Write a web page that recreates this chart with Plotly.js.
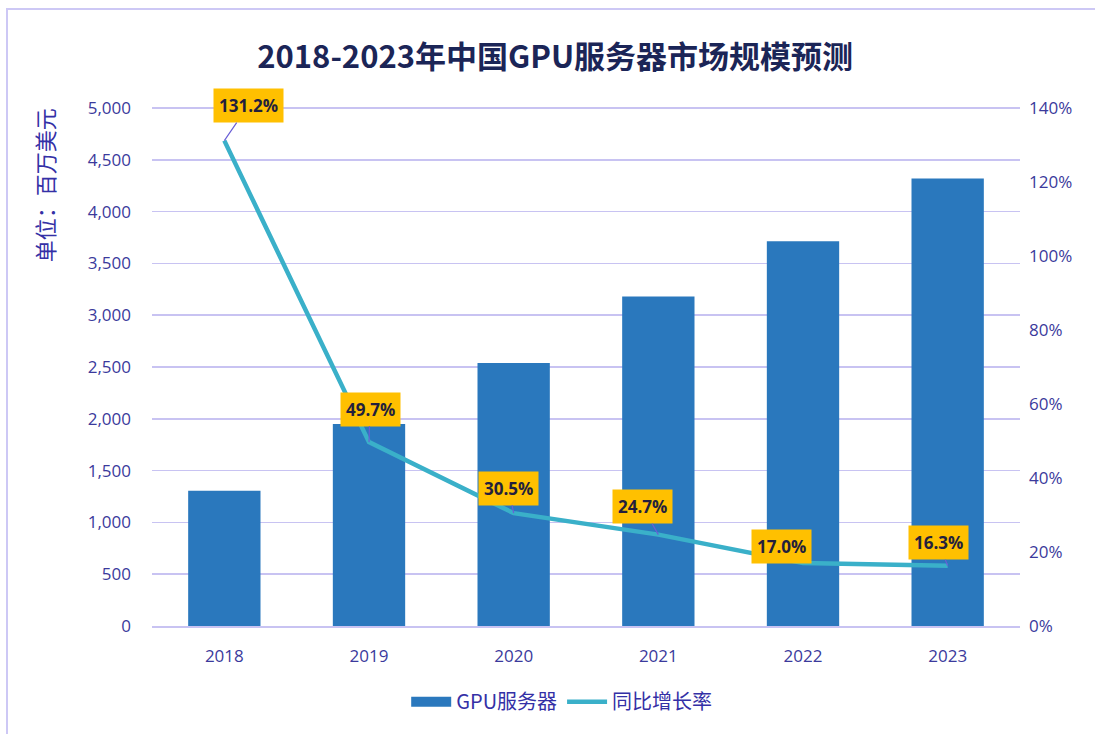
<!DOCTYPE html>
<html>
<head>
<meta charset="utf-8">
<script src="https://cdn.plot.ly/plotly-3.0.1.min.js"></script>
<style>
  html, body { margin: 0; padding: 0; background: #ffffff; overflow: hidden; }
  #chart { width: 1095px; height: 734px; }
  #frame { position: absolute; left: 6px; top: 8px; width: 1200px; height: 800px;
           border-top: 2px solid #cdc8f5; border-left: 2px solid #cdc8f5; pointer-events: none; }
</style>
</head>
<body>
<div id="chart"></div>
<div id="frame"></div>
<script>
// ---- data ----
const years = ['2018', '2019', '2020', '2021', '2022', '2023'];
const marketSize = [1305, 1950, 2540, 3180, 3715, 4320];   // 百万美元
const growthRate = [1.312, 0.497, 0.305, 0.247, 0.170, 0.163];
const growthLabels = ['131.2%', '49.7%', '30.5%', '24.7%', '17.0%', '16.3%'];
const leftTicks = [0, 500, 1000, 1500, 2000, 2500, 3000, 3500, 4000, 4500, 5000];
const rightTicks = [0, 0.2, 0.4, 0.6, 0.8, 1.0, 1.2, 1.4];
// label box offsets (pixels) from each line point
const labelDx = [24, 1, -5, -16, -22, -9];
const labelDy = [-35, -33, -25, -28, -17, -23];

const tickColor = '#3b3a9c';
const font = '"Noto Sans CJK SC", "Noto Sans", sans-serif';
const tickFontFamily = '"Open Sans", "Noto Sans CJK SC", sans-serif';

// small headroom so the top gridline is not clipped at the plot edge
const leftMax = 5020;
const rightMax = 1.4 * leftMax / 5000;

const traces = [
  {
    type: 'bar', x: years, y: marketSize, name: 'GPU服务器',
    marker: { color: '#2a78bd' }, width: 0.5, showlegend: false,
    hoverinfo: 'x+y'
  },
  {
    // legend entry giving the wide rectangular swatch of the bars
    type: 'scatter', mode: 'lines', x: [years[0]], y: [null], name: 'GPU服务器',
    line: { color: '#2a78bd', width: 12 }, showlegend: true, hoverinfo: 'skip'
  },
  {
    type: 'scatter', mode: 'lines', x: years, y: growthRate, name: '同比增长率',
    yaxis: 'y2', line: { color: '#3ab0c9', width: 4.5 }
  }
];

// category axis: annotations are placed by category index
const annotations = years.map((yr, i) => ({
  x: i, y: growthRate[i], xref: 'x', yref: 'y2',
  text: '<b>' + growthLabels[i] + '</b>',
  showarrow: true, arrowhead: 0, arrowwidth: 1.2, arrowcolor: '#6a5fd6', standoff: 0,
  ax: labelDx[i], ay: labelDy[i],
  bgcolor: '#ffc000', borderpad: 5,
  font: { family: tickFontFamily, size: 17, color: '#231f3d' }
}));

annotations.push({
  text: '单位：百万美元', textangle: -90, xref: 'paper', yref: 'paper',
  x: -0.124, y: 1.0, xanchor: 'center', yanchor: 'top', showarrow: false,
  font: { family: font, size: 22, color: '#3430a6' }
});

const layout = {
  width: 1095, height: 734,
  margin: { l: 152, r: 75, t: 106, b: 108, autoexpand: false },
  paper_bgcolor: '#ffffff', plot_bgcolor: '#ffffff',
  title: {
    text: '<b>2018-2023年中国GPU服务器市场规模预测</b>',
    x: 0.507, xanchor: 'center', y: 0.922, yanchor: 'middle',
    font: { family: font, size: 31, color: '#1b2557' }
  },
  xaxis: {
    type: 'category', categoryorder: 'array', categoryarray: years,
    range: [-0.5, years.length - 0.5],
    showgrid: false, zeroline: false,
    showline: true, linecolor: '#c8c3f2', linewidth: 1.5,
    tickfont: { family: tickFontFamily, size: 17, color: tickColor },
    ticks: '', ticklabelstandoff: 14
  },
  yaxis: {
    range: [0, leftMax], tickvals: leftTicks, tickformat: ',',
    gridcolor: '#c8c3f2', gridwidth: 1.5, zeroline: false,
    tickfont: { family: tickFontFamily, size: 17, color: tickColor },
    ticks: '', ticklabelstandoff: 20
  },
  yaxis2: {
    overlaying: 'y', side: 'right', range: [0, rightMax], tickvals: rightTicks,
    tickformat: '.0%',
    showgrid: false, zeroline: false,
    tickfont: { family: tickFontFamily, size: 17, color: tickColor },
    ticks: '', ticklabelstandoff: 8
  },
  legend: {
    orientation: 'h', x: 0.472, xanchor: 'center', y: -0.108, yanchor: 'top',
    font: { family: font, size: 20, color: '#3430a6' },
    itemwidth: 40
  },
  annotations: annotations,
  showlegend: true
};

Plotly.newPlot('chart', traces, layout, { displayModeBar: false, staticPlot: true });
</script>
</body>
</html>
